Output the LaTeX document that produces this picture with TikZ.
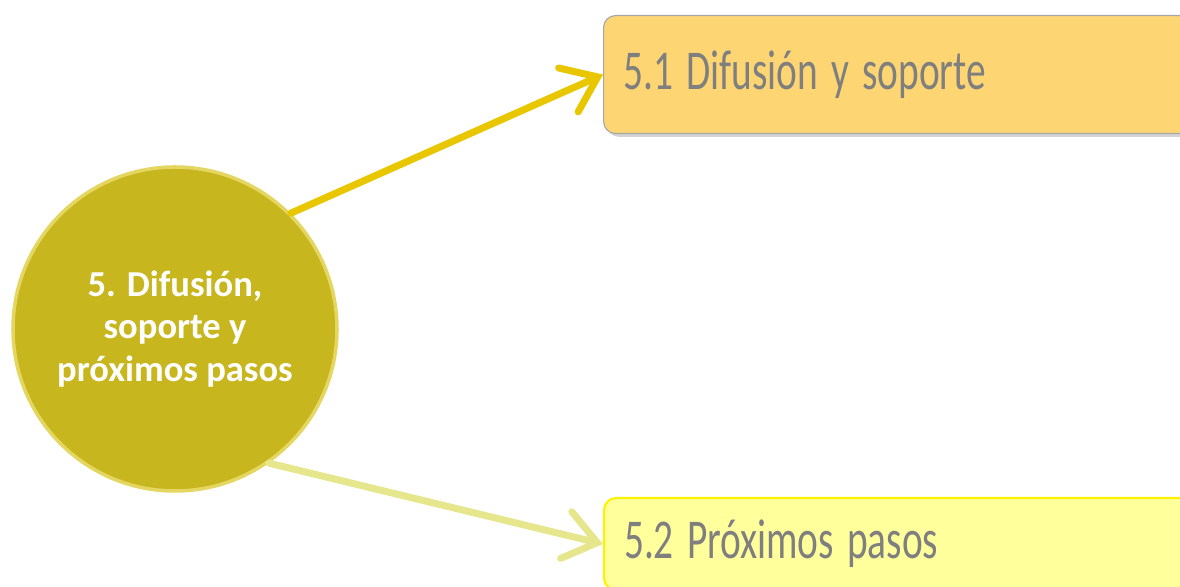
\documentclass[tikz,border=0pt]{standalone}
\usepackage{fontspec}
\setmainfont{Carlito}
\usepackage{graphicx}
\usepackage{tikz}
\usetikzlibrary{arrows.meta,positioning,shadows}
\definecolor{HubOlive}{HTML}{C8B61E}
\definecolor{HubRim}{HTML}{E4D660}
\definecolor{TopicGold}{HTML}{FDD673}
\definecolor{TopicPale}{HTML}{FFFF9C}
\definecolor{TopicEdge}{HTML}{A6A6A6}
\definecolor{TopicText}{HTML}{7F7F7F}
\definecolor{ArrowGold}{HTML}{E8C600}
\definecolor{ArrowPale}{HTML}{E6E68C}
\newcommand{\narrowtext}[1]{\scalebox{0.7}[1]{#1}}
\tikzset{
  hubnode/.style={circle,fill=HubOlive,draw=HubRim,line width=2.5pt,minimum size=8.1cm,align=center,text=white,font=\fontsize{26}{30}\selectfont\bfseries},
  topicbox/.style={anchor=north west,rounded corners=3mm,minimum width=16cm,text width=15cm,inner xsep=0.5cm,align=left,text=TopicText,font=\fontsize{40}{44}\selectfont},
  goldarrow/.style={-{Straight Barb[length=8mm,width=12mm,line cap=round]},line width=5pt,line cap=round,draw=ArrowGold},
  palearrow/.style={-{Straight Barb[length=8mm,width=12mm,line cap=round]},line width=5pt,line cap=round,draw=ArrowPale}
}
\begin{document}
\begin{tikzpicture}
\useasboundingbox (0,0) rectangle (29.5,14.675);
\clip (0,0) rectangle (29.5,14.675);
\node[hubnode] (hub) at (4.375,6.45) {5. Difusión,\\soporte y\\próximos pasos};
\node[topicbox,fill=TopicGold,draw=TopicEdge,line width=0.8pt,minimum height=2.95cm,drop shadow={opacity=0.35}] (diffusion) at (15.075,14.3) {\narrowtext{5.1 Difusión y soporte}};
\node[topicbox,fill=TopicPale,draw=yellow,line width=1.5pt,minimum height=2.3cm] (nextsteps) at (15.075,2.25) {\narrowtext{5.2 Próximos pasos}};
\draw[goldarrow] (hub.45) -- (diffusion.west);
\draw[palearrow] (hub.-55) -- (nextsteps.west);
\end{tikzpicture}
\end{document}
